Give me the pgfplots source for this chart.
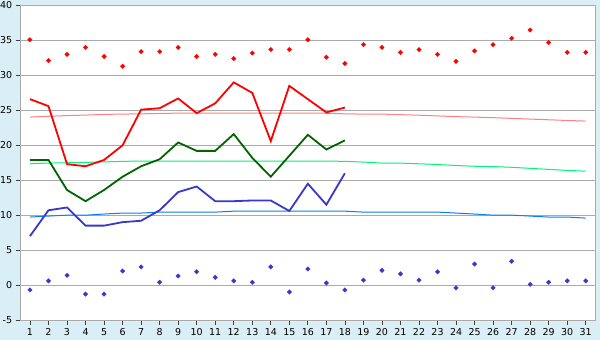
\documentclass[border=0pt]{standalone}
\usepackage{pgfplots}
\pgfplotsset{compat=1.18}
\usepackage{fontspec}
\setmainfont{DejaVu Sans}
\definecolor{bgblue}{HTML}{D9EEF5}
\definecolor{gridgray}{HTML}{AAAAAA}
\definecolor{maxred}{HTML}{FF0000}
\definecolor{trendred}{HTML}{FF8080}
\definecolor{avggreen}{HTML}{006400}
\definecolor{trendgreen}{HTML}{00F57A}
\definecolor{minblue}{HTML}{3838CC}
\definecolor{trendblue}{HTML}{0A80F0}
\begin{document}
\begin{tikzpicture}
\fill[bgblue] (0,0) rectangle (600pt,340pt);
\useasboundingbox (0,0) rectangle (600pt,340pt);
\begin{axis}[
  at={(20.7pt,20pt)}, anchor=south west,
  scale only axis, width=574.3pt, height=314.5pt,
  xmin=0.5, xmax=31.5, ymin=-5, ymax=40,
  xtick={1,...,31}, ytick={-5,0,...,40},
  axis background/.style={fill=white},
  axis line style={color=gridgray},
  ymajorgrids, grid style={color=gridgray, line width=0.8pt},
  tick align=outside, major tick length=5pt,
  tick style={color=black!75, line width=0.8pt},
  xtick pos=bottom, ytick pos=left,
  /pgf/number format/assume math mode=true,
  tick label style={font=\fontsize{9.5}{11}\selectfont, text=black},
  clip=false,
]
% trend lines
\addplot[trendred, line width=1pt] coordinates {
(1,24.03)(2,24.15)(3,24.25)(4,24.32)(5,24.42)(6,24.46)(7,24.5)(8,24.55)(9,24.6)(10,24.61)(11,24.61)(12,24.61)(13,24.61)(14,24.61)(15,24.61)(16,24.61)(17,24.58)(18,24.5)(19,24.46)(20,24.46)(21,24.38)(22,24.3)(23,24.2)(24,24.1)(25,24.03)(26,23.95)(27,23.85)(28,23.75)(29,23.65)(30,23.55)(31,23.46)};
\addplot[trendgreen, line width=1pt] coordinates {
(1,17.35)(2,17.45)(3,17.5)(4,17.55)(5,17.62)(6,17.7)(7,17.74)(8,17.74)(9,17.74)(10,17.74)(11,17.74)(12,17.74)(13,17.74)(14,17.74)(15,17.74)(16,17.74)(17,17.74)(18,17.7)(19,17.6)(20,17.45)(21,17.45)(22,17.35)(23,17.25)(24,17.1)(25,17.0)(26,16.95)(27,16.85)(28,16.7)(29,16.55)(30,16.4)(31,16.3)};
\addplot[trendblue, line width=1pt] coordinates {
(1,9.73)(2,9.87)(3,10.0)(4,10.0)(5,10.16)(6,10.3)(7,10.3)(8,10.44)(9,10.44)(10,10.44)(11,10.44)(12,10.57)(13,10.57)(14,10.57)(15,10.57)(16,10.57)(17,10.57)(18,10.57)(19,10.44)(20,10.44)(21,10.44)(22,10.44)(23,10.44)(24,10.3)(25,10.16)(26,10.0)(27,10.0)(28,9.87)(29,9.73)(30,9.73)(31,9.58)};
% daily lines
\addplot[maxred, line width=1.8pt] coordinates {
(1,26.6)(2,25.6)(3,17.3)(4,17.0)(5,17.9)(6,20.0)(7,25.1)(8,25.3)(9,26.7)(10,24.6)(11,26.0)(12,29.0)(13,27.5)(14,20.6)(15,28.5)(16,26.6)(17,24.7)(18,25.4)};
\addplot[avggreen, line width=1.8pt] coordinates {
(1,17.9)(2,17.9)(3,13.6)(4,12.0)(5,13.6)(6,15.5)(7,17.0)(8,18.0)(9,20.4)(10,19.2)(11,19.2)(12,21.6)(13,18.2)(14,15.5)(15,18.5)(16,21.5)(17,19.4)(18,20.7)};
\addplot[minblue, line width=1.8pt] coordinates {
(1,7.0)(2,10.7)(3,11.1)(4,8.5)(5,8.5)(6,9.0)(7,9.2)(8,10.7)(9,13.3)(10,14.1)(11,12.0)(12,12.0)(13,12.1)(14,12.1)(15,10.6)(16,14.5)(17,11.5)(18,16.0)};
% record points
\addplot[only marks, mark=square*, mark size=1.6pt, mark options={rotate=45, fill=maxred, draw=maxred, line width=0.3pt}] coordinates {
(1,35.1)(2,32.1)(3,33.0)(4,34.0)(5,32.7)(6,31.3)(7,33.4)(8,33.4)(9,34.0)(10,32.7)(11,33.0)(12,32.4)(13,33.2)(14,33.7)(15,33.7)(16,35.1)(17,32.6)(18,31.7)(19,34.4)(20,34.0)(21,33.3)(22,33.7)(23,33.0)(24,32.0)(25,33.5)(26,34.4)(27,35.3)(28,36.5)(29,34.7)(30,33.3)(31,33.3)};
\addplot[only marks, mark=square*, mark size=1.6pt, mark options={rotate=45, fill=minblue, draw=minblue, line width=0.3pt}] coordinates {
(1,-0.7)(2,0.6)(3,1.4)(4,-1.3)(5,-1.3)(6,2.0)(7,2.6)(8,0.4)(9,1.3)(10,1.9)(11,1.1)(12,0.6)(13,0.4)(14,2.6)(15,-1.0)(16,2.3)(17,0.3)(18,-0.7)(19,0.7)(20,2.1)(21,1.6)(22,0.7)(23,1.9)(24,-0.4)(25,3.0)(26,-0.4)(27,3.4)(28,0.1)(29,0.4)(30,0.6)(31,0.6)};
\end{axis}
\end{tikzpicture}
\end{document}
